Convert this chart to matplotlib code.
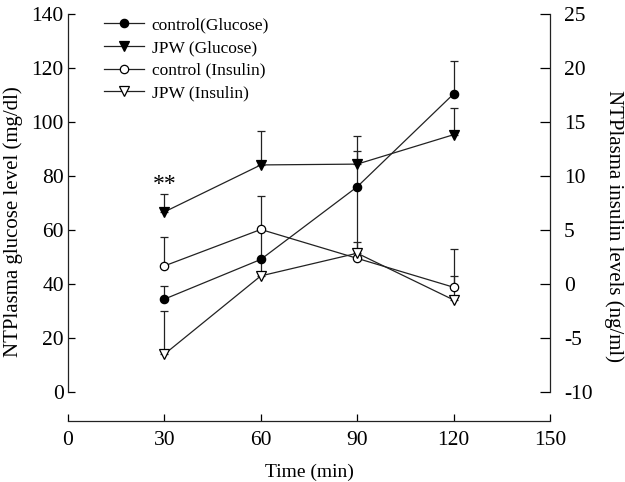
import matplotlib
matplotlib.use("Agg")
import matplotlib.pyplot as plt
from matplotlib.lines import Line2D
import numpy as np

plt.rcParams['font.family'] = ['Liberation Serif', 'DejaVu Serif']

time_min = [30, 60, 90, 120]
ctrl_glucose = [34.4, 49.1, 76.0, 110.4]
ctrl_glucose_err = [4.9, 11.0, 13.4, 12.2]
jpw_glucose = [66.7, 84.1, 84.4, 95.3]
jpw_glucose_err = [6.5, 12.7, 10.4, 9.8]
ctrl_insulin = [46.7, 60.2, 49.5, 38.8]
ctrl_insulin_err = [10.8, 12.4, 26.5, 14.2]
jpw_insulin = [14.0, 43.0, 51.4, 34.1]
jpw_insulin_err = [16.1, 6.0, 4.3, 8.8]

x_ticks = [0, 30, 60, 90, 120, 150]
left_ticks = [0, 20, 40, 60, 80, 100, 120, 140]
right_ticks = [-10, -5, 0, 5, 10, 15, 20, 25]

fig = plt.figure(figsize=(6.25, 4.82), dpi=100)
ax = fig.add_axes([68/625, 1-392/482, (550-68)/625, (392-14)/482])
ax.set_facecolor('none')

series = [
    (ctrl_glucose, ctrl_glucose_err, 'o', 'black', 6, 'control(Glucose)'),
    (jpw_glucose, jpw_glucose_err, 'v', 'black', 7, 'JPW (Glucose)'),
    (ctrl_insulin, ctrl_insulin_err, 'o', 'white', 6, 'control (Insulin)'),
    (jpw_insulin, jpw_insulin_err, 'v', 'white', 7, 'JPW (Insulin)'),
]
handles = []
for vals, err, mk, fc, ms, lab in series:
    low = np.zeros(len(vals))
    ax.errorbar(time_min, vals, yerr=[low, err], marker=mk, markersize=ms,
                markerfacecolor=fc, markeredgecolor='black', markeredgewidth=0.9,
                color='#222222', linewidth=0.9, elinewidth=0.9, capsize=3,
                capthick=0.9, zorder=3)
    handles.append(Line2D([], [], marker=mk, markersize=ms, markerfacecolor=fc,
                          markeredgecolor='black', markeredgewidth=0.9,
                          color='#222222', linewidth=0.9, label=lab))

ax.text(30, 77, '**', ha='center', va='center', fontsize=17)

ax.set_xlim(0, 150)
ax.set_ylim(0, 140)
ax.set_xticks(x_ticks)
ax.set_yticks(left_ticks)
ax.spines['top'].set_visible(False)
ax.spines['right'].set_visible(False)
ax.spines['bottom'].set_position(('outward', 21))
for s in ['left', 'bottom']:
    ax.spines[s].set_linewidth(0.9)
    ax.spines[s].set_color('#222222')
ax.tick_params(axis='y', direction='in', length=5, width=0.9, pad=3, labelsize=15.5)
ax.tick_params(axis='x', direction='in', length=5, width=0.9, pad=7, labelsize=15.5)
ax.set_xlabel('Time (min)', fontsize=14, labelpad=10)
ax.set_ylabel('NTPlasma glucose level (mg/dl)', fontsize=15, va='center')
ax.yaxis.set_label_coords(-55/482, 0.45)

ax2 = ax.twinx()
ax2.set_ylim(-10, 25)
ax2.set_yticks(right_ticks)
ax2.set_yticklabels([str(v) for v in right_ticks])
for s in ['top', 'left', 'bottom']:
    ax2.spines[s].set_visible(False)
ax2.spines['right'].set_linewidth(0.9)
ax2.spines['right'].set_color('#222222')
ax2.tick_params(axis='y', direction='in', length=7, width=0.9, pad=10, labelsize=15.5)
ax2.set_ylabel('NTPlasma insulin levels (ng/ml)', fontsize=15, rotation=270, va='center')
ax2.yaxis.set_label_coords(1 + 64/482, 0.44)

leg = ax.legend(handles=handles, loc='upper left', bbox_to_anchor=(0.06, 1.01),
                frameon=False, fontsize=12.5, handlelength=2.3, handletextpad=0.45,
                labelspacing=0.38, borderaxespad=0)

fig.savefig('out.png', dpi=100)
